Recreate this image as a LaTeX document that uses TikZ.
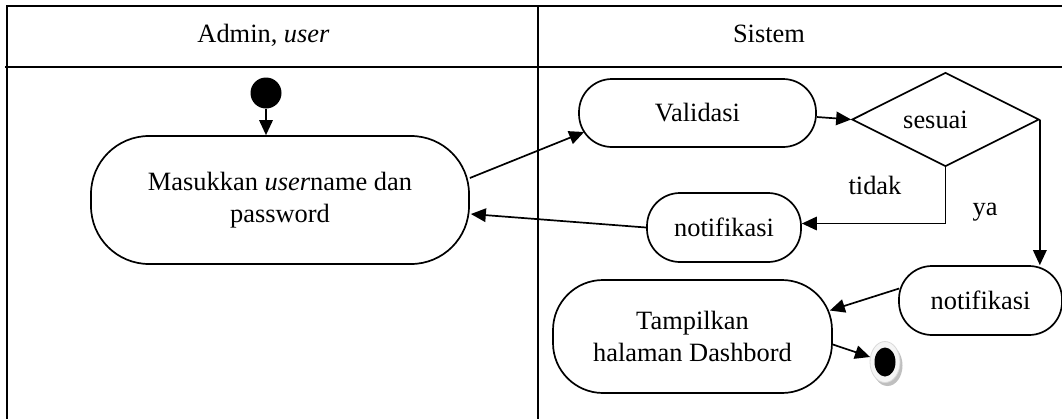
\documentclass[tikz,border=0pt]{standalone}
\usepackage{fontspec}
\setmainfont{Liberation Serif}
\usetikzlibrary{arrows.meta,shapes.geometric,shadows,calc}
\begin{document}
\begin{tikzpicture}[x=1bp,y=-1bp,
  every node/.style={font=\fontsize{26.5}{32}\selectfont, inner sep=0pt},
  frame/.style={line width=1.9bp},
  act/.style={draw, line width=1.7bp, align=center},
  arr/.style={line width=1.7bp, -{Triangle[length=15bp,width=13.5bp]}},
  lbl/.style={anchor=base}]
\useasboundingbox (0,0) rectangle (1062,419);
% swimlane frame
\draw[frame] (6,6) -- (1062,6);
\draw[frame] (5,67) -- (1062,67);
\draw[frame] (7,6) -- (7,419);
\draw[frame] (538,6) -- (538,419);
\node[lbl] (laneA) at (263.5,42) {Admin, \textit{user}};
\node[lbl] (laneB) at (769,42) {Sistem};
% nodes
\node[circle, fill=black, minimum size=31bp] (start) at (266,93) {};
\node[act, rounded corners=58bp, minimum width=378bp, minimum height=128bp] (masuk) at (280,200) {Masukkan \textit{user}name dan\\password};
\node[act, rounded corners=33bp, minimum width=237bp, minimum height=68bp] (valid) at (697.5,113) {Validasi};
\node[draw, line width=1.7bp, diamond, aspect=2, minimum width=187bp, minimum height=94bp] (dia) at (945.5,119.5) {sesuai\hspace*{20bp}};
\node[act, rounded corners=33bp, minimum width=154bp, minimum height=69bp] (notifA) at (724,227.5) {notifikasi};
\node[act, rounded corners=33bp, minimum width=163bp, minimum height=69bp] (notifB) at (980.5,300.5) {notifikasi};
\node[act, rounded corners=50bp, minimum width=279bp, minimum height=113bp] (tampil) at (692.5,336.5) {Tampilkan\\halaman Dashbord};
\node[ellipse, minimum width=30bp, minimum height=41bp, fill=gray!8, draw=gray!30, line width=0.8bp,
      drop shadow={shadow xshift=2.5bp, shadow yshift=-3.5bp, fill=gray!50, opacity=1},
      path picture={\fill[black] (path picture bounding box.center) ellipse [x radius=10.5bp, y radius=14.5bp];}] (end) at (885,362) {};
\node[lbl] (tidak) at (875,194) {tidak};
\node[lbl] (ya) at (985,215) {ya};
% connectors
\draw[arr] (start.south) -- (start.south |- masuk.north);
\draw[arr] ($(masuk.east)+(0,-22)$) -- ($(valid.west)+(6,19)$);
\draw[arr] ($(valid.east)+(0,4)$) -- (dia.west);
\draw[arr] (dia.south) |- ($(notifA.east)+(0,-4)$);
\draw[arr] (dia.east) -- (dia.east |- notifB.north);
\draw[arr] (notifA.west) -- ($(masuk.east)+(1,14)$);
\draw[arr] ($(notifB.west)+(1,-12)$) -- ($(tampil.east)+(-3,-26)$);
\draw[arr] ($(tampil.east)+(0,8)$) -- (end);
\end{tikzpicture}
\end{document}
